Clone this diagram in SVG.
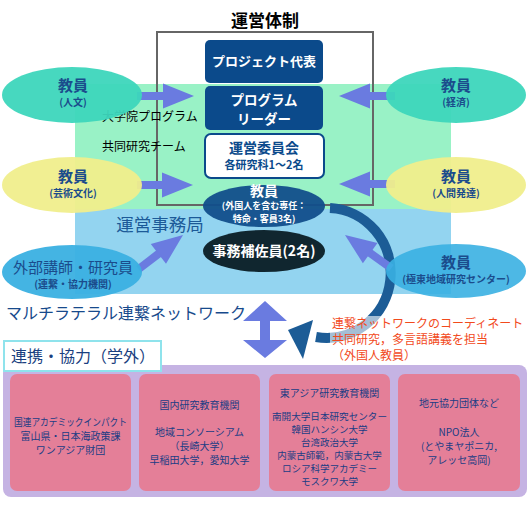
<svg xmlns="http://www.w3.org/2000/svg" width="530" height="520" viewBox="0 0 530 520">
<defs>
<style>
text{font-family:"Noto Sans CJK JP","Noto Sans",sans-serif;text-anchor:middle}
.dk{fill:#0B4A8B}
.wt{fill:#ffffff}
.nv{fill:#1B4C8C}
.arr{fill:#6A7BE0}
.pk{fill:#E47F98}
.pt{fill:#203C84;font-size:10px}
.ps{fill:#203C84;font-size:9.5px}
.or{fill:#F24A1C;font-size:12px;text-anchor:start}
.lb{fill:#000;font-size:12px;text-anchor:start}
</style>
<polygon id="ah" points="0,0 -31,-12.5 -31,12.5"/>
</defs>
<rect width="530" height="520" fill="#ffffff"/>

<g id="regions">
<rect x="75" y="84" width="376" height="125" fill="#99F2C6"/>
<rect x="75" y="209" width="376" height="85" fill="#93D4F0"/>
<rect x="3" y="365" width="524" height="132" rx="8" fill="#C5B3E3"/>
</g>

<g id="unei-taisei">
<rect x="157" y="32" width="216" height="173" fill="none" stroke="#666" stroke-width="2"/>
<text x="265" y="27" font-size="17" font-weight="bold" fill="#000">運営体制</text>
</g>

<text class="lb" x="102" y="121">大学院プログラム</text>
<text class="lb" x="102" y="151">共同研究チーム</text>
<text x="160" y="231" font-size="17.5" fill="#1C5A98">運営事務局</text>

<g id="project-rep">
<rect x="205" y="40" width="118" height="43" rx="5" class="dk"/>
<text x="264" y="66" font-size="13" font-weight="bold" class="wt">プロジェクト代表</text>
</g>
<g id="program-leader">
<rect x="205" y="86" width="118" height="44" rx="5" class="dk"/>
<text x="264" y="105" font-size="13.5" font-weight="bold" class="wt">プログラム</text>
<text x="264" y="124" font-size="13.5" font-weight="bold" class="wt">リーダー</text>
</g>
<g id="committee">
<rect x="205" y="134" width="119" height="44" rx="6" fill="#fff" stroke="#0B4A8B" stroke-width="2"/>
<text x="264" y="153" font-size="14" font-weight="bold" class="dk">運営委員会</text>
<text x="264" y="169" font-size="11" font-weight="bold" class="dk">各研究科1〜2名</text>
</g>

<g id="connectors">
<path d="M330 208 A64 65 0 1 1 316 337" fill="none" stroke="#1C5C96" stroke-width="10"/>
<polygon points="288,330 313,320 303,359" fill="#1C5C96"/>
<rect x="330" y="316" width="190" height="46" fill="#fff" fill-opacity="0.6"/>
<g class="arr">
<use href="#ah" transform="translate(194,96)"/>
<rect x="137" y="92" width="27" height="8"/>
<use href="#ah" transform="translate(339,96) rotate(180)"/>
<rect x="369" y="92" width="26" height="8"/>
<use href="#ah" transform="translate(193,185)"/>
<rect x="137" y="181" width="26" height="8"/>
<use href="#ah" transform="translate(339,184) rotate(180)"/>
<rect x="369" y="180" width="26" height="8"/>
<g transform="translate(183,235) rotate(-37.5)"><use href="#ah"/><rect x="-56" y="-4" width="26" height="8"/></g>
<g transform="translate(345,235) rotate(-144.3)"><use href="#ah"/><rect x="-57" y="-4" width="27" height="8"/></g>
<polygon points="265,301 287,321 270,321 270,340 287,340 265,358 243,340 260,340 260,321 243,321"/>
</g>
</g>

<g id="kyoin-center">
<ellipse cx="264" cy="206" rx="61" ry="21" fill="#114E8B" fill-opacity="0.95"/>
<text x="264" y="196" font-size="14" font-weight="bold" class="wt">教員</text>
<text x="264" y="209" font-size="9" font-weight="bold" class="wt">(外国人を含む専任：</text>
<text x="264" y="222" font-size="9" font-weight="bold" class="wt">特命・客員3名)</text>
</g>
<g id="jimu-hosa">
<ellipse cx="264" cy="251" rx="61" ry="21" fill="#10262F"/>
<text x="264" y="256" font-size="14" font-weight="bold" class="wt">事務補佐員(2名)</text>
</g>

<g id="kyoin-jinbun">
<ellipse cx="72" cy="95" rx="70" ry="28" fill="#3DD6BC" fill-opacity="0.95"/>
<text x="73" y="91" font-size="15" font-weight="bold" class="nv">教員</text>
<text x="73" y="106" font-size="10" font-weight="bold" class="nv">(人文)</text>
</g>
<g id="kyoin-keizai">
<ellipse cx="456" cy="95" rx="70" ry="28" fill="#3DD6BC" fill-opacity="0.95"/>
<text x="456" y="91" font-size="15" font-weight="bold" class="nv">教員</text>
<text x="456" y="106" font-size="10" font-weight="bold" class="nv">(経済)</text>
</g>
<g id="kyoin-geijutsu">
<ellipse cx="72" cy="185" rx="70" ry="28" fill="#F0EE8C" fill-opacity="0.95"/>
<text x="73" y="182" font-size="15" font-weight="bold" class="nv">教員</text>
<text x="73" y="197" font-size="10" font-weight="bold" class="nv">(芸術文化)</text>
</g>
<g id="kyoin-ningen">
<ellipse cx="456" cy="185" rx="70" ry="28" fill="#F0EE8C" fill-opacity="0.95"/>
<text x="456" y="182" font-size="15" font-weight="bold" class="nv">教員</text>
<text x="456" y="197" font-size="10" font-weight="bold" class="nv">(人間発達)</text>
</g>
<g id="gaibu">
<ellipse cx="72" cy="272" rx="70" ry="27" fill="#3AB0E2" fill-opacity="0.95"/>
<text x="73" y="273" font-size="15" class="nv">外部講師・研究員</text>
<text x="73" y="288" font-size="10" font-weight="bold" class="nv">(連繋・協力機関)</text>
</g>
<g id="kyoin-kyokuto">
<ellipse cx="456" cy="271" rx="70" ry="27" fill="#3AB0E2" fill-opacity="0.9"/>
<text x="456" y="268" font-size="15" font-weight="bold" class="nv">教員</text>
<text x="456" y="283" font-size="10" font-weight="bold" class="nv">(極東地域研究センター)</text>
</g>

<text x="6" y="319" font-size="16" fill="#174A8C" style="text-anchor:start">マルチラテラル連繋ネットワーク</text>

<g id="note">
<text class="or" x="332" y="328">連繋ネットワークのコーディネート</text>
<text class="or" x="332" y="344">共同研究，多言語講義を担当</text>
<text class="or" x="332" y="360">（外国人教員）</text>
</g>

<g id="renkei-label">
<rect x="4" y="341" width="157" height="30" fill="#fff" stroke="#8FE3EC" stroke-width="2"/>
<text x="11" y="362" font-size="16" fill="#1A3F80" style="text-anchor:start">連携・協力（学外）</text>
</g>

<g id="box-intl">
<rect x="10" y="374" width="121" height="117" rx="7" class="pk"/>
<text class="pt" x="70.5" y="426" textLength="113" lengthAdjust="spacingAndGlyphs">国連アカデミックインパクト</text>
<text class="pt" x="70.5" y="440">富山県・日本海政策課</text>
<text class="pt" x="70.5" y="454">ワンアジア財団</text>
</g>
<g id="box-domestic">
<rect x="139" y="374" width="121" height="117" rx="7" class="pk"/>
<text class="pt" x="199.5" y="409">国内研究教育機関</text>
<text class="pt" x="199.5" y="436">地域コンソーシアム</text>
<text class="pt" x="199.5" y="450">（長崎大学）</text>
<text class="pt" x="199.5" y="464">早稲田大学，愛知大学</text>
</g>
<g id="box-eastasia">
<rect x="269" y="374" width="121" height="117" rx="7" class="pk"/>
<text class="pt" x="329.5" y="397">東アジア研究教育機関</text>
<text class="ps" x="329.5" y="420" textLength="115" lengthAdjust="spacingAndGlyphs">南開大学日本研究センター</text>
<text class="ps" x="329.5" y="433">韓国ハンシン大学</text>
<text class="ps" x="329.5" y="446">台湾政治大学</text>
<text class="ps" x="329.5" y="459">内蒙古師範，内蒙古大学</text>
<text class="ps" x="329.5" y="472">ロシア科学アカデミー</text>
<text class="ps" x="329.5" y="485">モスクワ大学</text>
</g>
<g id="box-local">
<rect x="398" y="374" width="122" height="117" rx="7" class="pk"/>
<text class="pt" x="459" y="407">地元協力団体など</text>
<text class="pt" x="459" y="436">NPO法人</text>
<text class="pt" x="459" y="450">(とやまヤポニカ,</text>
<text class="pt" x="459" y="464">アレッセ高岡)</text>
</g>
</svg>
